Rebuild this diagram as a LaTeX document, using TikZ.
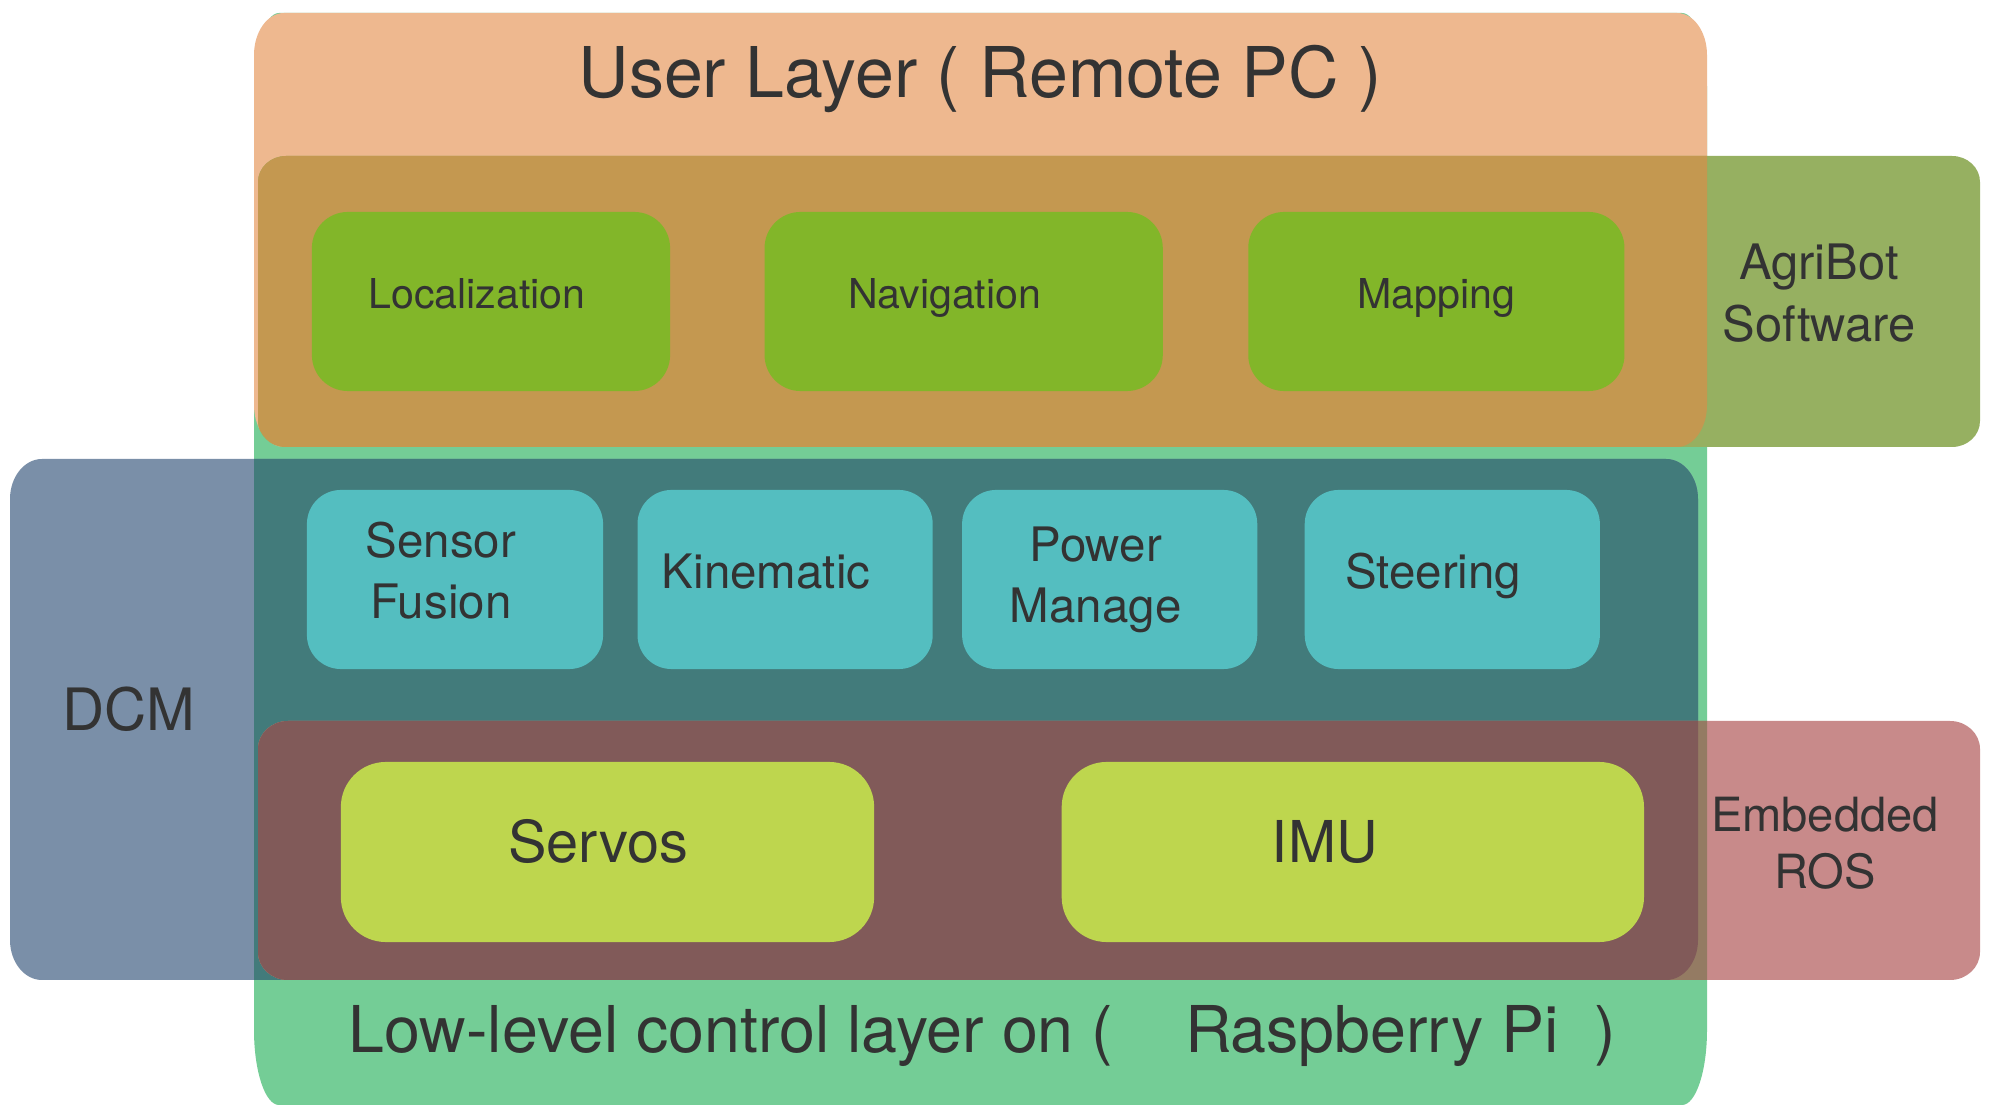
\documentclass[tikz,border=0pt]{standalone}
\usepackage{fontspec}
\setmainfont{TeX Gyre Heros}
\usetikzlibrary{positioning}

\definecolor{lowgreen}{HTML}{74CD96}
\definecolor{userorange}{HTML}{EEB88F}
\definecolor{agriolive}{HTML}{96B061}
\definecolor{agrimix}{HTML}{C49850}
\definecolor{dcmblue}{HTML}{7A8FA8}
\definecolor{dcmteal}{HTML}{427B7B}
\definecolor{rospink}{HTML}{C88A8A}
\definecolor{rosgreen}{HTML}{947B63}
\definecolor{rosmix}{HTML}{815A59}
\definecolor{swgreen}{HTML}{82B629}
\definecolor{ctrlteal}{HTML}{54BEC0}
\definecolor{hwlime}{HTML}{BED64E}
\definecolor{ink}{HTML}{333333}

% rounded box with elliptic corners: x1,y1,x2,y2,rx,ry
\newcommand{\layerpath}[6]{(#1+#5,#2) -- (#3-#5,#2)
  arc[start angle=-90,end angle=0,x radius=#5,y radius=#6] -- (#3,#4-#6)
  arc[start angle=0,end angle=90,x radius=#5,y radius=#6] -- (#1+#5,#4)
  arc[start angle=90,end angle=180,x radius=#5,y radius=#6] -- (#1,#2+#6)
  arc[start angle=180,end angle=270,x radius=#5,y radius=#6] -- cycle}
\newcommand{\lowpath}{\layerpath{254}{13}{1707}{1105}{25}{75}}
\newcommand{\userpath}{\layerpath{254}{13}{1707}{447}{30}{42}}
\newcommand{\agripath}{\layerpath{258}{156}{1980}{447}{28}{26}}
\newcommand{\dcmpath}{\layerpath{10}{459}{1698}{980}{32}{40}}
\newcommand{\rospath}{\layerpath{258}{721}{1980}{980}{30}{28}}

\tikzset{
  box/.style={rectangle, inner sep=0pt, text=ink, align=center},
  nudge/.style={execute at begin node={\hspace*{-#1}}},
  swbox/.style={box, fill=swgreen, rounded corners=0.36cm, minimum height=1.79cm,
    font=\fontsize{11.7}{14}\selectfont, text height=0.295cm, text depth=0.16cm},
  ctrlbox/.style={box, fill=ctrlteal, rounded corners=0.34cm, minimum width=2.95cm,
    minimum height=1.79cm, font=\fontsize{13.5}{17.4}\selectfont},
  hwbox/.style={box, fill=hwlime, rounded corners=0.45cm, minimum height=1.8cm,
    font=\fontsize{16.4}{20}\selectfont, text height=0.42cm, text depth=0.22cm},
  layertext/.style={text=ink, inner sep=0pt, anchor=base, font=\fontsize{19.9}{24}\selectfont},
  sidetext/.style={text=ink, inner sep=0pt, align=center}
}

\begin{document}
\begin{tikzpicture}[x=0.01cm, y=-0.01cm]
    \useasboundingbox (0,0) rectangle (1990,1116);
    \fill[white] (0,0) rectangle (1990,1116);

    % layers
    \fill[lowgreen] \lowpath;
    \fill[userorange] \userpath;
    \fill[agriolive] \agripath;
    \begin{scope}
        \clip \userpath;
        \fill[agrimix] \agripath;
    \end{scope}
    \fill[dcmblue] \dcmpath;
    \begin{scope}
        \clip \lowpath;
        \fill[dcmteal] \dcmpath;
    \end{scope}
    \fill[rospink] \rospath;
    \begin{scope}
        \clip \lowpath;
        \fill[rosgreen] \rospath;
        \clip \dcmpath;
        \fill[rosmix] \rospath;
    \end{scope}

    % layer labels
    \node[layertext] (user) at (980,98) {User Layer ( Remote PC )};
    \node[layertext, anchor=base west, font=\fontsize{18.35}{22}\selectfont] (low) at (348,1053)
        {Low-level control layer on (\ \ \ \ Raspberry Pi\ \ )};
    \node[layertext, font=\fontsize{16.6}{20}\selectfont] (dcm) at (129,731) {DCM};
    \node[sidetext, font=\fontsize{13.9}{17.6}\selectfont] (agri) at (1819,293) {AgriBot\\Software};
    \node[sidetext, font=\fontsize{13.4}{16.2}\selectfont] (ros) at (1825,843.5) {Embedded\\ROS};

    % software on the remote PC
    \node[swbox, minimum width=3.58cm, nudge=0.28cm] (loc) at (491,301.5) {Localization};
    \node[swbox, minimum width=3.98cm, nudge=0.38cm] (nav) [right=0.93cm of loc] {Navigation};
    \node[swbox, minimum width=3.76cm] (map) [right=0.84cm of nav] {Mapping};

    % control on the Raspberry Pi
    \node[ctrlbox, minimum width=2.96cm, nudge=0.28cm, text depth=0.19cm] (fusion) at (455,579.5) {Sensor\\Fusion};
    \node[ctrlbox, text height=0.34cm, text depth=0.16cm, nudge=0.38cm] (kin) [right=0.33cm of fusion] {Kinematic};
    \node[ctrlbox, nudge=0.28cm] (power) [right=0.28cm of kin] {Power\\Manage};
    \node[ctrlbox, text height=0.34cm, text depth=0.16cm, nudge=0.38cm] (steer) [right=0.46cm of power] {Steering};

    % hardware
    \node[hwbox, minimum width=5.33cm, nudge=0.18cm] (servos) at (607.5,852) {Servos};
    \node[hwbox, minimum width=5.82cm, nudge=0.56cm] (imu) [right=1.86cm of servos] {IMU};
\end{tikzpicture}
\end{document}
